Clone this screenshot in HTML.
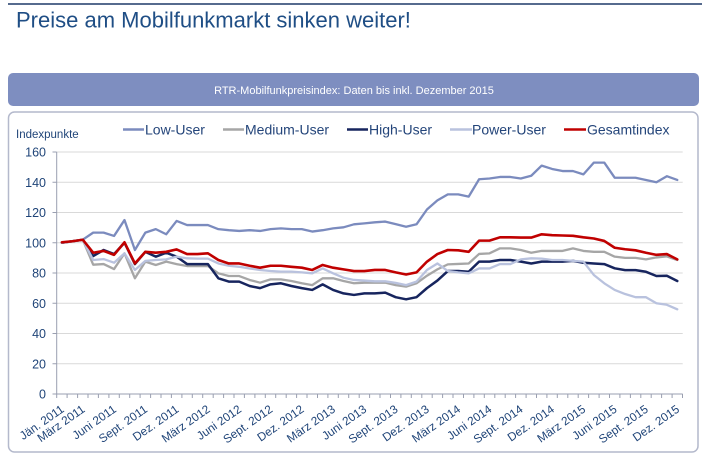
<!DOCTYPE html>
<html><head><meta charset="utf-8">
<style>
html,body{margin:0;padding:0;background:#fff;}
svg{display:block;font-family:"Liberation Sans",Arial,sans-serif;}
</style></head>
<body>
<svg width="702" height="475" viewBox="0 0 702 475" xmlns="http://www.w3.org/2000/svg">
<rect width="702" height="475" fill="#fff"/>
<line x1="8" y1="4" x2="702" y2="4" stroke="#1F3A68" stroke-width="1.5"/>
<text x="16" y="27.5" font-size="22" fill="#1F4E85">Preise am Mobilfunkmarkt sinken weiter!</text>

<rect x="8" y="73" width="691" height="33" rx="5" fill="#7E8EC0"/>
<text x="354" y="94" font-size="11" fill="#fff" text-anchor="middle">RTR-Mobilfunkpreisindex: Daten bis inkl. Dezember 2015</text>

<rect x="8.5" y="112" width="689.5" height="340" rx="6" fill="#fff" stroke="#B4B9CC" stroke-width="1.5"/>

<!-- gridlines -->
<g stroke="#D9D9D9" stroke-width="1">
<line x1="56.7" y1="152" x2="682.7" y2="152"/>
<line x1="56.7" y1="182.25" x2="682.7" y2="182.25"/>
<line x1="56.7" y1="212.5" x2="682.7" y2="212.5"/>
<line x1="56.7" y1="242.75" x2="682.7" y2="242.75"/>
<line x1="56.7" y1="273" x2="682.7" y2="273"/>
<line x1="56.7" y1="303.25" x2="682.7" y2="303.25"/>
<line x1="56.7" y1="333.5" x2="682.7" y2="333.5"/>
<line x1="56.7" y1="363.75" x2="682.7" y2="363.75"/>
</g>
<!-- axes -->
<g stroke="#9A9FB0" stroke-width="1">
<line x1="56.7" y1="152" x2="56.7" y2="394"/>
<line x1="56.7" y1="394" x2="682.7" y2="394"/>
<line x1="52.5" y1="152" x2="56.7" y2="152"/>
<line x1="52.5" y1="182.25" x2="56.7" y2="182.25"/>
<line x1="52.5" y1="212.5" x2="56.7" y2="212.5"/>
<line x1="52.5" y1="242.75" x2="56.7" y2="242.75"/>
<line x1="52.5" y1="273" x2="56.7" y2="273"/>
<line x1="52.5" y1="303.25" x2="56.7" y2="303.25"/>
<line x1="52.5" y1="333.5" x2="56.7" y2="333.5"/>
<line x1="52.5" y1="363.75" x2="56.7" y2="363.75"/>
<line x1="52.5" y1="394" x2="56.7" y2="394"/>
</g>
<g stroke="#9A9FB0" stroke-width="1" id="ticks">
<path d="M56.7 394v4M67.1 394v4M77.6 394v4M88 394v4M98.4 394v4M108.9 394v4M119.3 394v4M129.7 394v4M140.1 394v4M150.6 394v4M161 394v4M171.4 394v4M181.9 394v4M192.3 394v4M202.7 394v4M213.2 394v4M223.6 394v4M234 394v4M244.4 394v4M254.9 394v4M265.3 394v4M275.7 394v4M286.2 394v4M296.6 394v4M307 394v4M317.5 394v4M327.9 394v4M338.3 394v4M348.7 394v4M359.2 394v4M369.6 394v4M380 394v4M390.5 394v4M400.9 394v4M411.3 394v4M421.8 394v4M432.2 394v4M442.6 394v4M453 394v4M463.5 394v4M473.9 394v4M484.3 394v4M494.8 394v4M505.2 394v4M515.6 394v4M526.1 394v4M536.5 394v4M546.9 394v4M557.3 394v4M567.8 394v4M578.2 394v4M588.6 394v4M599.1 394v4M609.5 394v4M619.9 394v4M630.4 394v4M640.8 394v4M651.2 394v4M661.6 394v4M672.1 394v4M682.5 394v4"/>
</g>

<!-- y labels -->
<g font-size="12.5" fill="#1F4478" text-anchor="end">
<text x="46" y="156.5">160</text>
<text x="46" y="186.75">140</text>
<text x="46" y="217">120</text>
<text x="46" y="247.25">100</text>
<text x="46" y="277.5">80</text>
<text x="46" y="307.75">60</text>
<text x="46" y="338">40</text>
<text x="46" y="368.25">20</text>
<text x="46" y="398.5">0</text>
</g>
<text x="16" y="138" font-size="11.5" fill="#1F4478">Indexpunkte</text>

<!-- x labels -->
<g font-size="11.8" fill="#1F4478" text-anchor="end">
<text transform="translate(64.9,411) rotate(-35)">Jän. 2011</text>
<text transform="translate(85.8,411) rotate(-35)">März 2011</text>
<text transform="translate(117.1,411) rotate(-35)">Juni 2011</text>
<text transform="translate(148.3,411) rotate(-35)">Sept. 2011</text>
<text transform="translate(179.6,411) rotate(-35)">Dez. 2011</text>
<text transform="translate(210.9,411) rotate(-35)">März 2012</text>
<text transform="translate(242.2,411) rotate(-35)">Juni 2012</text>
<text transform="translate(273.5,411) rotate(-35)">Sept. 2012</text>
<text transform="translate(304.8,411) rotate(-35)">Dez. 2012</text>
<text transform="translate(336.1,411) rotate(-35)">März 2013</text>
<text transform="translate(367.4,411) rotate(-35)">Juni 2013</text>
<text transform="translate(398.7,411) rotate(-35)">Sept. 2013</text>
<text transform="translate(430,411) rotate(-35)">Dez. 2013</text>
<text transform="translate(461.2,411) rotate(-35)">März 2014</text>
<text transform="translate(492.5,411) rotate(-35)">Juni 2014</text>
<text transform="translate(523.8,411) rotate(-35)">Sept. 2014</text>
<text transform="translate(555.1,411) rotate(-35)">Dez. 2014</text>
<text transform="translate(586.4,411) rotate(-35)">März 2015</text>
<text transform="translate(617.7,411) rotate(-35)">Juni 2015</text>
<text transform="translate(649,411) rotate(-35)">Sept. 2015</text>
<text transform="translate(680.3,411) rotate(-35)">Dez. 2015</text>
</g>

<!-- series -->
<g transform="translate(61.9,394) scale(10.43,-1.5125)" fill="none" stroke-linejoin="round" stroke-linecap="round">
<polyline vector-effect="non-scaling-stroke" stroke="#7B8BBE" stroke-width="2.3" points="0,100 1,101 2,102 3,106.7 4,106.7 5,104.5 6,115 7,95.2 8,106.7 9,109 10,105.6 11,114.4 12,111.7 13,111.7 14,111.7 15,109 16,108.3 17,107.8 18,108.3 19,107.8 20,109 21,109.5 22,109 23,109 24,107.4 25,108.3 26,109.5 27,110.2 28,112.2 29,112.8 30,113.5 31,114 32,112.3 33,110.6 34,112.2 35,122 36,128 37,132 38,132 39,130.5 40,142 41,142.5 42,143.5 43,143.5 44,142.5 45,144.3 46,151 47,148.8 48,147.4 49,147.4 50,145.2 51,153 52,153 53,143 54,143 55,143 56,141.5 57,140 58,144 59,141.5"/>
<polyline vector-effect="non-scaling-stroke" stroke="#A6A6A6" stroke-width="2.3" points="0,100 1,101 2,102 3,85.5 4,85.9 5,82.6 6,93 7,76.5 8,87.5 9,85.3 10,87.5 11,85.9 12,84.6 13,84.6 14,84.6 15,79.8 16,78 17,78 18,75.4 19,73.6 20,75.8 21,75.8 22,74.7 23,73.2 24,72 25,76.5 26,76.5 27,74.7 28,73.2 29,73.6 30,73.6 31,73.6 32,72 33,71 34,73.2 35,78.2 36,82.4 37,85.7 38,86 39,86.3 40,92.6 41,93 42,96.3 43,96.3 44,95.2 45,93.4 46,94.6 47,94.6 48,94.6 49,96.3 50,94.6 51,94 52,94 53,90.8 54,90 55,90 56,89 57,90.3 58,91 59,88.6"/>
<polyline vector-effect="non-scaling-stroke" stroke="#17255E" stroke-width="2.5" points="0,100 1,101 2,102 3,91.2 4,95.2 5,92.5 6,100 7,85.9 8,94 9,90.8 10,93.4 11,90.8 12,85.9 13,85.9 14,85.9 15,76.5 16,74.3 17,74.3 18,71.4 19,70 20,72.5 21,73.2 22,71.4 23,70 24,68.8 25,72.5 26,68.8 27,66.5 28,65.5 29,66.5 30,66.5 31,67 32,64 33,62.6 34,64 35,70 36,75 37,81.3 38,81.3 39,80.8 40,87.5 41,87.5 42,88.6 43,88.6 44,87.5 45,86.3 46,87.5 47,87.5 48,87.5 49,88 50,86.8 51,86.3 52,85.9 53,83.1 54,81.9 55,81.9 56,80.8 57,78 58,78.2 59,74.7"/>
<polyline vector-effect="non-scaling-stroke" stroke="#B9C2DE" stroke-width="2.3" points="0,100 1,101 2,102 3,88.6 4,89.2 5,86.8 6,93 7,82 8,88 9,88.6 10,89 11,90.8 12,89.7 13,89.5 14,89.5 15,86.3 16,84.8 17,84.1 18,83 19,82 20,81.3 21,80.9 22,80.9 23,80.4 24,79.8 25,83 26,79.8 27,76.9 28,75.4 29,75 30,74.5 31,74.5 32,73.5 33,72 34,74.3 35,82 36,86.3 37,81.3 38,80.4 39,79.8 40,83 41,83 42,85.9 43,85.9 44,89 45,89.7 46,89.5 47,88.6 48,88.6 49,88 50,87.5 51,78.7 52,73.2 53,68.8 54,66.1 55,64 56,64 57,60 58,59 59,56"/>
<polyline vector-effect="non-scaling-stroke" stroke="#C00000" stroke-width="2.6" points="0,100.3 1,101 2,102 3,93.4 4,94.6 5,92 6,100.3 7,86.3 8,94 9,93.4 10,94 11,95.6 12,92.5 13,92.5 14,93 15,88.6 16,86.3 17,86.3 18,84.8 19,83.5 20,84.8 21,84.8 22,84.1 23,83.5 24,82 25,85.3 26,83.5 27,82.4 28,81.3 29,81.3 30,82 31,82 32,80.4 33,79 34,80.4 35,87.5 36,92.5 37,95.2 38,95 39,94 40,101.4 41,101.4 42,103.6 43,103.6 44,103.4 45,103.4 46,105.6 47,105 48,104.8 49,104.6 50,103.6 51,102.8 52,101.2 53,96.7 54,95.7 55,95 56,93.4 57,92 58,92.5 59,89"/>
</g>

<!-- legend -->
<g stroke-width="2.5">
<line x1="123" y1="129.5" x2="144" y2="129.5" stroke="#7B8BBE"/>
<line x1="223" y1="129.5" x2="244" y2="129.5" stroke="#A6A6A6"/>
<line x1="347" y1="129.5" x2="368" y2="129.5" stroke="#17255E"/>
<line x1="450" y1="129.5" x2="472" y2="129.5" stroke="#B9C2DE"/>
<line x1="564" y1="129.5" x2="586" y2="129.5" stroke="#C00000"/>
</g>
<g font-size="14" fill="#24457A">
<text x="145" y="134.5">Low-User</text>
<text x="245" y="134.5">Medium-User</text>
<text x="369" y="134.5">High-User</text>
<text x="472" y="134.5">Power-User</text>
<text x="587" y="134.5">Gesamtindex</text>
</g>
</svg>
</body></html>
